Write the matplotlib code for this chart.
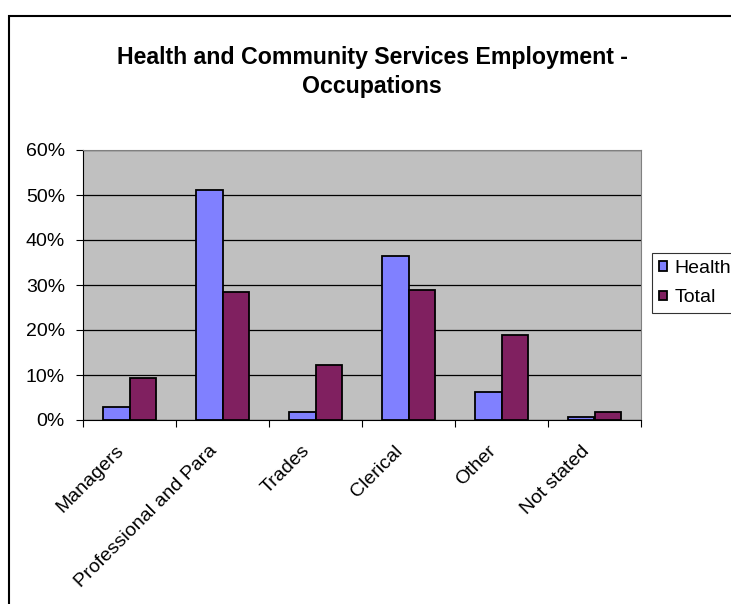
import matplotlib
matplotlib.use("Agg")
import matplotlib.pyplot as plt
import matplotlib.transforms as mtransforms
import numpy as np
from matplotlib.patches import Rectangle
from matplotlib.ticker import PercentFormatter

categories = ["Managers", "Professional and Para", "Trades", "Clerical", "Other", "Not stated"]
health = [2.9, 51.2, 1.8, 36.5, 6.3, 0.6]
total = [9.3, 28.4, 12.3, 29.0, 19.0, 1.8]
series_names = ["Health", "Total"]
title = "Health and Community Services Employment -\nOccupations"

plt.rcParams['font.family'] = ['Liberation Sans', 'DejaVu Sans']

W, H = 731, 604
fig = plt.figure(figsize=(W / 100, H / 100), dpi=100)

# outer chart border
fig.patches.append(Rectangle((9 / W, -0.1), 1.2, 1 - 16 / H + 0.1, transform=fig.transFigure,
                             fill=False, edgecolor='black', linewidth=1.5))

left, right, top, bottom = 83, 641, 150, 420
ax = fig.add_axes([left / W, 1 - bottom / H, (right - left) / W, (bottom - top) / H])
ax.set_facecolor('#C0C0C0')

x = np.arange(len(categories))
bw = 1 / 3.5
ax.bar(x - bw / 2, health, bw, color='#8080FF', edgecolor='black', linewidth=1.3, label=series_names[0], zorder=3)
ax.bar(x + bw / 2, total, bw, color='#802060', edgecolor='black', linewidth=1.3, label=series_names[1], zorder=3)

ax.set_xlim(-0.5, len(categories) - 0.5)
ax.set_ylim(0, 60)
ax.set_yticks(np.arange(0, 61, 10))
ax.yaxis.set_major_formatter(PercentFormatter(decimals=0))
ax.grid(axis='y', color='black', linewidth=0.9, zorder=1)
ax.set_axisbelow(True)

ax.set_xticks(np.arange(len(categories) + 1) - 0.5, minor=False)
ax.set_xticklabels([])
ax.set_xticks(x, minor=True)
ax.set_xticklabels(categories, minor=True, rotation=45, ha='right', rotation_mode='anchor', fontsize=14)
ax.tick_params(axis='x', which='minor', length=0, pad=9)
ax.tick_params(axis='x', which='major', length=5, direction='out', color='black')
ax.tick_params(axis='y', length=5, direction='out', labelsize=14, pad=8, color='black')
offset = mtransforms.ScaledTranslation(-14 / 100, -10 / 100, fig.dpi_scale_trans)
for lab in ax.get_xticklabels(minor=True):
    lab.set_transform(lab.get_transform() + offset)

for s in ['top', 'right']:
    ax.spines[s].set_color('#808080')
ax.spines['left'].set_color('black')
ax.spines['bottom'].set_color('black')

fig.text(372 / W, 1 - 72 / H, title, ha='center', va='center', fontsize=16.7, fontweight='bold', linespacing=1.3)

leg = fig.legend(loc='upper left', bbox_to_anchor=(652 / W, 1 - 253 / H), frameon=True, fancybox=False,
                 edgecolor='black', fontsize=14, handlelength=0.4, handleheight=0.4, handletextpad=0.4,
                 borderpad=0.35, labelspacing=0.65, borderaxespad=0)
leg.get_frame().set_linewidth(0.8)

fig.savefig('out.png', dpi=100)
